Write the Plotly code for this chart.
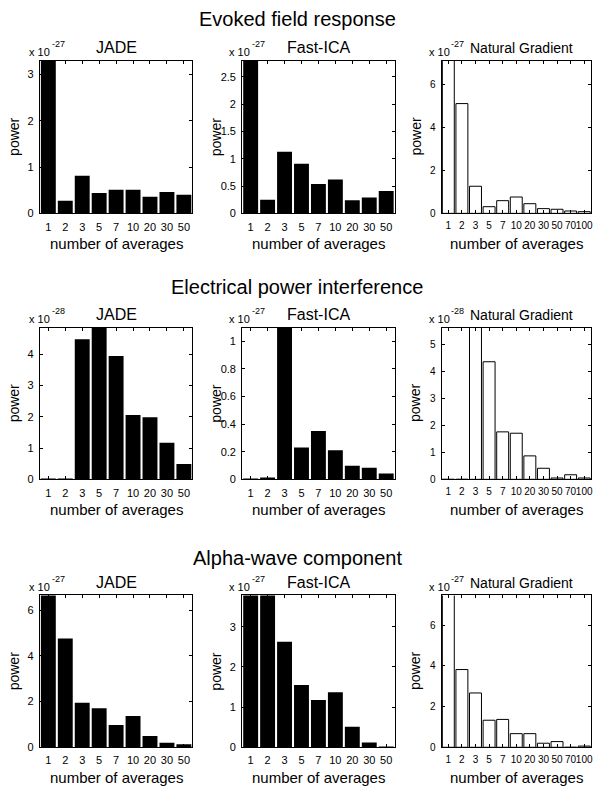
import plotly.graph_objects as go

# ---------------- data (values in units of 10^exponent) ----------------
cats9 = ["1", "2", "3", "5", "7", "10", "20", "30", "50"]
cats11 = ["1", "2", "3", "5", "7", "10", "20", "30", "50", "70", "100"]

section_titles = ["Evoked field response", "Electrical power interference", "Alpha-wave component"]
method_names = ["JADE", "Fast-ICA", "Natural Gradient"]

evoked_jade = [3.5, 0.27, 0.81, 0.44, 0.51, 0.51, 0.36, 0.46, 0.40]
evoked_fastica = [3.0, 0.25, 1.13, 0.91, 0.54, 0.62, 0.24, 0.29, 0.41]
evoked_natgrad = [7.5, 5.1, 1.26, 0.31, 0.59, 0.76, 0.45, 0.22, 0.19, 0.11, 0.08]

power_jade = [0.01, 0.01, 4.48, 5.0, 3.95, 2.06, 1.99, 1.17, 0.49]
power_fastica = [0.003, 0.007, 1.2, 0.23, 0.35, 0.21, 0.098, 0.084, 0.043]
power_natgrad = [0.0, 0.0, 6.0, 4.36, 1.76, 1.71, 0.87, 0.41, 0.05, 0.17, 0.05]

alpha_jade = [7.0, 4.77, 1.95, 1.71, 0.98, 1.37, 0.49, 0.20, 0.13]
alpha_fastica = [4.0, 4.0, 2.63, 1.55, 1.18, 1.37, 0.51, 0.12, 0.02]
alpha_natgrad = [8.0, 3.82, 2.67, 1.33, 1.37, 0.67, 0.67, 0.20, 0.28, 0.0, 0.06]

exponents = [["-27", "-27", "-27"], ["-28", "-27", "-28"], ["-27", "-27", "-27"]]
y_max = [[3.3, 2.8, 7.1], [4.86, 1.1, 5.63], [6.65, 3.78, 7.46]]
y_ticks = [
    [[0, 1, 2, 3], [0, 0.5, 1, 1.5, 2, 2.5], [0, 2, 4, 6]],
    [[0, 1, 2, 3, 4], [0, 0.2, 0.4, 0.6, 0.8, 1], [0, 1, 2, 3, 4, 5]],
    [[0, 2, 4, 6], [0, 1, 2, 3], [0, 2, 4, 6]],
]

series = [
    [evoked_jade, evoked_fastica, evoked_natgrad],
    [power_jade, power_fastica, power_natgrad],
    [alpha_jade, alpha_fastica, alpha_natgrad],
]

# ---------------- layout geometry (pixels) ----------------
W, H = 596, 792
FONT = "Liberation Sans, Arial, sans-serif"
col_px = [(40, 193), (243, 396), (443, 593)]
row_px = [(61, 215), (330, 483), (600, 753)]
section_y = [19, 289, 562]
exp_x = [27, 228, 428]


def fx(p):
    return p / W


def fy(p):
    return 1 - p / H


fig = go.Figure()
annotations = []
layout_axes = {}

k = 0
for r in range(3):
    for c in range(3):
        k += 1
        cats = cats11 if c == 2 else cats9
        vals = series[r][c]
        xa = "x" if k == 1 else f"x{k}"
        ya = "y" if k == 1 else f"y{k}"
        if c == 2:
            marker = dict(color="white", line=dict(color="black", width=1))
        else:
            marker = dict(color="black", line=dict(color="black", width=0))
        fig.add_trace(go.Bar(x=cats, y=vals, xaxis=xa, yaxis=ya, marker=marker,
                             showlegend=False, hoverinfo="x+y"))
        x0, x1 = col_px[c]
        y0, y1 = row_px[r]
        common = dict(showline=True, linecolor="black", linewidth=1, mirror="ticks",
                      ticks="inside", ticklen=3, tickcolor="black", showgrid=False,
                      zeroline=False)
        layout_axes["xaxis" if k == 1 else f"xaxis{k}"] = dict(
            domain=[fx(x0), fx(x1)], anchor=ya, type="category", tickangle=0,
            tickmode="array", tickvals=cats, ticktext=cats,
            range=[-0.5, len(cats) - 0.5], ticklabelstandoff=3,
            tickfont=dict(family=FONT, size=10 if c == 2 else 11, color="black"), **common)
        layout_axes["yaxis" if k == 1 else f"yaxis{k}"] = dict(
            domain=[fy(y1), fy(y0)], anchor=xa, range=[0, y_max[r][c]],
            tickvals=y_ticks[r][c], ticklabelstandoff=3,
            tickfont=dict(family=FONT, size=10 if c == 2 else 11, color="black"), **common)

        # subplot title
        title_size = 16 if c < 2 else 14
        tx = (x0 + x1) / 2 if c < 2 else 523
        annotations.append(dict(text=method_names[c], x=fx(tx), y=fy(y0 - 13), xref="paper",
                                yref="paper", showarrow=False, xanchor="center", yanchor="middle",
                                font=dict(family=FONT, size=title_size, color="black")))
        # exponent label: base and superscript as separate texts
        annotations.append(dict(text="x 10", x=fx(exp_x[c]), y=fy(y0 - 9), xref="paper",
                                yref="paper", showarrow=False, xanchor="left", yanchor="middle",
                                font=dict(family=FONT, size=11, color="black")))
        annotations.append(dict(text=exponents[r][c], x=fx(exp_x[c] + 23), y=fy(y0 - 17),
                                xref="paper", yref="paper", showarrow=False, xanchor="left",
                                yanchor="middle", font=dict(family=FONT, size=9, color="black")))
        # y title
        annotations.append(dict(text="power", x=fx(x0 - 26), y=fy((y0 + y1) / 2), xref="paper",
                                yref="paper", showarrow=False, textangle=-90,
                                xanchor="center", yanchor="middle",
                                font=dict(family=FONT, size=14, color="black")))
        # x title
        annotations.append(dict(text="number of averages", x=fx((x0 + x1) / 2), y=fy(y1 + 30),
                                xref="paper", yref="paper", showarrow=False,
                                xanchor="center", yanchor="middle",
                                font=dict(family=FONT, size=15, color="black")))

for r in range(3):
    annotations.append(dict(text=section_titles[r], x=0.5, y=fy(section_y[r]), xref="paper",
                            yref="paper", showarrow=False, xanchor="center", yanchor="middle",
                            font=dict(family=FONT, size=20, color="black")))

fig.update_layout(width=W, height=H, margin=dict(l=0, r=0, t=0, b=0),
                  paper_bgcolor="white", plot_bgcolor="white", bargap=0.12,
                  annotations=annotations, **layout_axes)

fig.write_html("out.html")
